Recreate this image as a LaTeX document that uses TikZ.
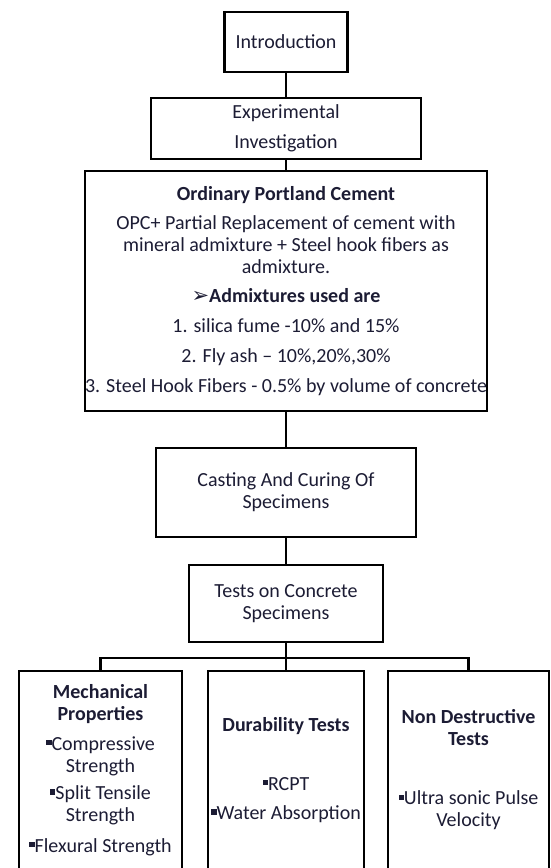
\documentclass[tikz,border=0pt]{standalone}
\usepackage{fontspec}
\setmainfont{Carlito}
\newfontfamily\arrowfont{DejaVu Sans}
\definecolor{inktext}{HTML}{1C1C34}
\newcommand{\sqbul}{\rule[0.25em]{0.27em}{0.27em}}
\begin{document}
\begin{tikzpicture}[
                x=1pt,y=-1pt,
                line width=2.5pt,
                box/.style={draw,align=center,inner sep=0pt,text=inktext,
                    font=\fontsize{20}{22}\selectfont}
            ]
                \useasboundingbox (0,0) rectangle (550,868);

                \node [box,minimum width=123pt,minimum height=60pt] (intro) at (286,42) {Introduction};
                \node [box,minimum width=270pt,minimum height=61pt] (exper) at (286,128.5)
                    {Experimental\\[8pt]Investigation};
                \node [box,minimum width=396pt,minimum height=240pt] (opc) at (286,291) {%
                    \textbf{Ordinary Portland Cement}\\[7pt]
                    OPC+ Partial Replacement of cement with\\
                    mineral admixture + Steel hook fibers as\\
                    admixture.\\[7pt]
                    {\arrowfont\fontsize{21}{22}\selectfont ➢}\textbf{Admixtures used are}\\[8pt]
                    1. silica fume -10\% and 15\%\\[8pt]
                    2. Fly ash – 10\%,20\%,30\%\\[8pt]
                    3. Steel Hook Fibers - 0.5\% by volume of concrete};
                \node [box,minimum width=260pt,minimum height=89pt] (cast) at (286,492.5)
                    {Casting And Curing Of\\Specimens};
                \node [box,minimum width=194pt,minimum height=77pt] (tests) at (286,603.5)
                    {Tests on Concrete\\Specimens};

                \node [box,minimum width=163pt,minimum height=198pt] (mech) at (100.5,770) {%
                    \textbf{Mechanical}\\\textbf{Properties}\\[7.5pt]
                    \sqbul Compressive\\Strength\\[5.5pt]
                    \sqbul Split Tensile\\Strength\\[8.5pt]
                    \sqbul Flexural Strength};
                \node [box,minimum width=156pt,minimum height=198pt] (dur) at (286,770) {%
                    \textbf{Durability Tests}\\[37pt]
                    \sqbul RCPT\\[7.5pt]
                    \sqbul Water Absorption};
                \node [box,minimum width=161pt,minimum height=198pt] (nd) at (468.5,770) {%
                    \textbf{Non Destructive}\\\textbf{Tests}\\[37pt]
                    \sqbul Ultra sonic Pulse\\Velocity};

                \draw (intro.south) -- (exper.north);
                \draw (exper.south) -- (opc.north);
                \draw (opc.south) -- (cast.north);
                \draw (cast.south) -- (tests.north);
                \draw (tests.south) -- (dur.north);
                \draw (mech.north) -- ++(0,-12) -| (nd.north);
            \end{tikzpicture}
\end{document}
